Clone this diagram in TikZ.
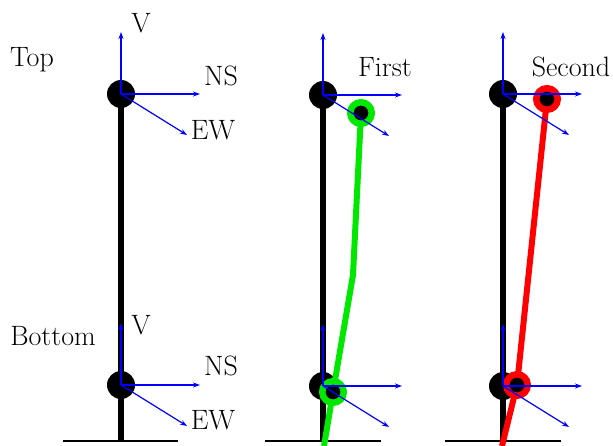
\documentclass[tikz,border=0pt]{standalone}
\usetikzlibrary{arrows.meta}
\definecolor{mygreen}{RGB}{0,232,0}
\begin{document}
\begin{tikzpicture}[x=1pt,y=-1pt,
  joint/.style={circle,fill=black,inner sep=0pt,minimum size=28pt},
  ring/.style={circle,fill=black,draw=#1,line width=6.5pt,inner sep=0pt,minimum size=21.5pt},
  pole/.style={line width=6pt},
  ground/.style={line width=2pt},
  axis/.style={blue,line width=1.2pt,-{Stealth[length=7pt,width=5pt]}},
  bent/.style={#1,line width=6pt},
  lbl/.style={font=\fontsize{28}{32}\selectfont,inner sep=0pt}]
\useasboundingbox (0,0) rectangle (613,445);
% ground ends
\coordinate (g1) at (121,441);
\coordinate (g2) at (323,441);
\coordinate (g3) at (503,441);
\coordinate (gl1) at (63,441); \coordinate (gr1) at (178,441);
\coordinate (gl2) at (265,441); \coordinate (gr2) at (381,441);
\coordinate (gl3) at (445,441); \coordinate (gr3) at (561,441);
% poles
\draw[pole] (121,94) coordinate (t1c) -- (g1);
\draw[pole] (323,95) coordinate (t2c) -- (g2);
\draw[pole] (503,94) coordinate (t3c) -- (g3);
\draw[ground] (gl1) -- (gr1);
\draw[ground] (gl2) -- (gr2);
\draw[ground] (gl3) -- (gr3);
% joints
\node[joint] (t1) at (121,94) {};
\node[joint] (b1) at (121,385) {};
\node[joint] (t2) at (323,95) {};
\node[joint] (b2) at (323,386) {};
\node[joint] (t3) at (503,94) {};
\node[joint] (b3) at (503,386) {};
% deformed shapes
\coordinate (gt) at (361,113);
\coordinate (gm) at (353,275);
\coordinate (gb) at (333,392);
\coordinate (ge) at (324,446);
\coordinate (rt) at (547,99);
\coordinate (rb) at (517,385);
\coordinate (re) at (502,446);
\draw[bent=mygreen] (gt) -- (gm) -- (gb) -- (ge);
\draw[bent=red] (rt) -- (rb) -- (re);
\node[ring=mygreen] (gT) at (gt) {};
\node[ring=mygreen] (gB) at (gb) {};
\node[ring=red] (rT) at (rt) {};
\node[ring=red] (rB) at (rb) {};
% axes
\foreach \n in {t1,t2,t3,b1,b2,b3}{
  \draw[axis] (\n.center) -- ++(0,-62);
  \draw[axis] (\n.center) -- ++(79,0);
  \draw[axis] (\n.center) -- ++(66,41);
}
% labels
\node[lbl] (v1) at (141,23) {V};
\node[lbl] (ns1) at (221,76) {NS};
\node[lbl] (ew1) at (213,130) {EW};
\node[lbl] (top) at (32,60) {Top};
\node[lbl] (v2) at (141,325) {V};
\node[lbl] (ns2) at (221,366) {NS};
\node[lbl] (ew2) at (213,420) {EW};
\node[lbl] (bot) at (53,336) {Bottom};
\node[lbl] (first) at (385,67) {First};
\node[lbl] (second) at (571,67) {Second};
\end{tikzpicture}
\end{document}
